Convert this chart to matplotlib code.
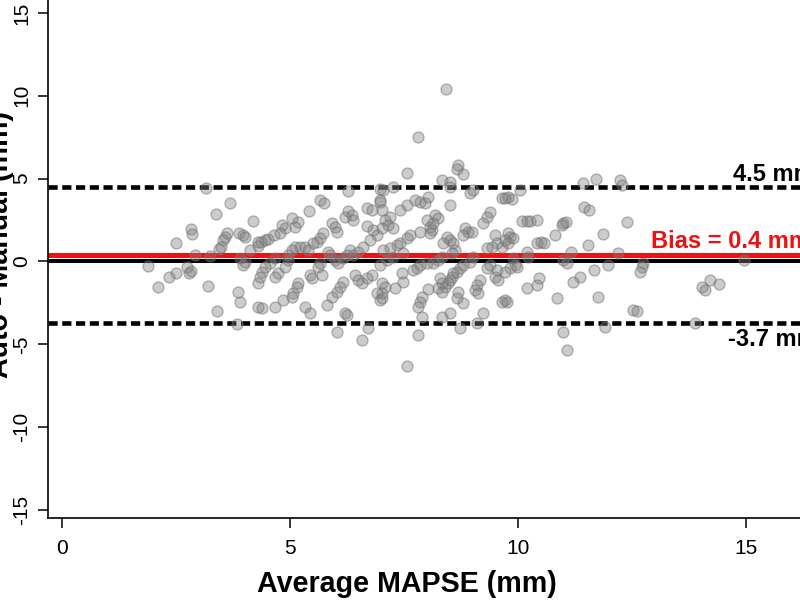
import matplotlib
matplotlib.use('Agg')
import matplotlib.pyplot as plt

plt.rcParams['font.family'] = ['Liberation Sans', 'DejaVu Sans']
plt.rcParams['axes.unicode_minus'] = False

# Bland-Altman data: mean of the two methods vs difference
avg_mapse = [
    3.16, 3.68, 3.38, 4.19, 2.83, 2.85, 2.50, 3.62, 3.57, 3.53, 3.49, 3.44, 3.88, 3.97, 4.01, 4.12,
    4.30, 2.92, 3.25, 1.89, 2.74, 2.83, 2.79, 2.50, 2.35, 2.11, 3.20, 3.86, 3.90, 3.97, 4.01, 3.90,
    4.30, 3.40, 3.84, 4.30, 6.27, 6.97, 5.66, 5.75, 5.42, 6.69, 6.80, 6.27, 6.36, 6.38, 6.21, 6.97,
    5.04, 5.18, 5.11, 4.89, 4.82, 5.92, 5.99, 6.03, 5.72, 5.66, 5.59, 5.50, 4.65, 4.52, 4.45, 4.36,
    4.30, 4.78, 6.69, 6.82, 6.91, 6.75, 6.60, 6.49, 6.38, 6.32, 6.25, 6.16, 5.11, 5.04, 4.96, 5.22,
    5.33, 5.39, 5.83, 5.88, 5.99, 6.05, 4.67, 4.56, 4.45, 4.39, 4.34, 4.96, 4.89, 4.74, 4.67, 5.66,
    5.61, 5.70, 5.44, 5.48, 5.18, 5.15, 5.07, 5.04, 4.85, 4.67, 4.39, 5.33, 5.44, 6.16, 6.10, 6.03,
    5.92, 5.81, 6.21, 6.25, 6.03, 6.71, 6.58, 6.43, 6.49, 6.58, 6.69, 6.80, 6.91, 7.02, 7.02, 8.42,
    7.81, 7.57, 8.68, 8.66, 8.79, 8.33, 8.51, 8.51, 7.26, 7.04, 8.95, 9.01, 9.65, 9.78, 7.74, 7.85,
    7.96, 8.03, 7.57, 7.41, 8.51, 6.97, 7.02, 7.19, 7.08, 7.15, 7.02, 7.26, 8.18, 8.25, 8.14, 8.07,
    8.00, 8.11, 8.07, 7.85, 7.63, 7.57, 7.41, 7.35, 7.19, 7.04, 9.39, 9.32, 9.23, 8.84, 8.90, 8.99,
    8.79, 8.44, 8.51, 8.36, 8.57, 9.50, 9.54, 9.43, 9.32, 9.65, 9.78, 8.62, 8.55, 8.33, 8.25, 8.14,
    8.00, 7.85, 7.79, 7.70, 7.48, 7.26, 7.13, 6.97, 9.01, 8.95, 8.79, 8.73, 8.66, 8.57, 8.55, 8.51,
    8.46, 8.40, 9.39, 9.32, 9.54, 9.50, 9.56, 9.17, 9.10, 9.06, 9.12, 8.29, 8.33, 8.25, 8.33, 7.46,
    7.48, 7.30, 7.08, 7.02, 6.97, 8.03, 7.89, 7.85, 7.81, 8.68, 8.66, 8.79, 9.71, 9.65, 9.23, 9.10,
    8.33, 8.51, 8.73, 7.89, 7.81, 7.57, 11.43, 11.71, 12.24, 12.28, 10.04, 9.87, 9.71, 11.45, 11.56, 12.39,
    10.09, 10.20, 10.26, 10.42, 10.99, 11.05, 10.96, 11.86, 10.81, 9.78, 9.82, 9.89, 9.71, 10.42, 10.50, 10.57,
    11.54, 10.20, 10.22, 11.16, 12.19, 9.89, 9.93, 9.82, 9.71, 9.98, 10.99, 11.07, 11.97, 11.67, 10.46, 10.42,
    10.20, 11.36, 11.21, 10.86, 11.75, 9.76, 12.52, 10.99, 11.91, 11.07, 12.74, 12.72, 12.68, 14.96, 14.04, 14.10,
    14.21, 14.41, 12.61, 13.88,
]
auto_minus_manual = [
    4.44, 3.53, 2.87, 2.44, 1.96, 1.66, 1.12, 1.72, 1.48, 1.30, 0.88, 0.75, 1.72, 1.60, 1.48, 0.69,
    1.18, 0.39, 0.33, -0.27, -0.33, -0.57, -0.69, -0.69, -0.94, -1.54, -1.48, -1.84, -2.44, -0.21, -0.03, 0.21,
    -1.30, -2.99, -3.77, -2.75, 4.25, 4.38, 3.71, 3.53, 3.05, 3.23, 3.11, 3.05, 2.81, 2.50, 2.69, 3.71,
    2.63, 2.38, 2.08, 2.02, 2.20, 2.32, 2.08, 1.78, 1.72, 1.42, 1.18, 1.12, 1.60, 1.36, 1.30, 1.18,
    0.94, 1.72, 2.14, 1.90, 1.60, 1.30, 0.88, 0.57, 0.39, 0.69, 0.39, 0.21, 0.88, 0.69, 0.39, 0.88,
    0.88, 0.69, 0.57, 0.39, 0.09, -0.09, 0.21, -0.09, -0.33, -0.63, -0.94, 0.09, -0.33, -0.69, -0.94, -0.09,
    -0.33, -0.81, -0.81, -1.00, -1.30, -1.54, -1.90, -2.14, -2.32, -2.75, -2.81, -2.75, -3.11, -1.24, -1.54, -1.84,
    -2.14, -2.63, -3.11, -3.23, -4.25, -4.01, -4.74, -0.81, -1.12, -1.30, -1.00, -0.81, -1.90, -2.20, -1.30, 10.41,
    7.51, 5.34, 5.82, 5.58, 5.28, 4.92, 4.80, 4.50, 4.50, 4.31, 4.13, 4.31, 3.83, 3.89, 3.71, 3.59,
    3.53, 3.89, 3.41, 3.11, 3.41, 3.59, 3.11, 2.69, 2.50, 2.20, 2.02, 2.02, 2.81, 2.63, 2.32, 2.08,
    2.50, 1.90, 1.72, 1.78, 1.60, 1.42, 1.12, 1.00, 0.81, 0.69, 2.99, 2.69, 2.32, 2.02, 1.78, 1.78,
    1.60, 1.48, 1.30, 1.12, 1.12, 1.60, 1.12, 0.88, 0.81, 0.88, 1.12, 0.69, 0.51, 0.27, 0.09, -0.09,
    -0.09, -0.21, -0.39, -0.51, 0.51, 0.27, 0.09, -0.21, 0.27, -0.03, -0.21, -0.39, -0.63, -0.69, -0.94, -1.12,
    -1.30, -1.54, -0.21, -0.39, -0.51, -0.94, -1.12, -1.12, -1.42, -1.72, -1.90, -1.00, -1.30, -1.60, -1.84, -0.69,
    -1.24, -1.60, -1.54, -1.90, -2.32, -1.66, -2.14, -2.44, -2.75, -1.84, -2.20, -2.50, -2.32, -2.44, -3.11, -3.71,
    -3.35, -3.11, -4.01, -3.35, -4.44, -6.31, 4.74, 4.98, 4.92, 4.62, 4.31, 3.77, 3.83, 3.29, 3.11, 2.38,
    2.44, 2.44, 2.44, 2.50, 2.32, 2.38, 2.20, 1.66, 1.60, 1.72, 1.48, 1.42, 1.30, 1.12, 1.18, 1.12,
    1.00, 0.57, 0.27, 0.57, 0.51, 0.21, -0.21, -0.39, -0.63, -0.33, 0.09, -0.09, -0.21, -0.51, -1.00, -1.42,
    -1.60, -0.94, -1.24, -2.20, -2.14, -2.44, -2.93, -4.25, -3.95, -5.34, -0.09, -0.33, -0.63, 0.09, -1.54, -1.72,
    -1.12, -1.36, -2.99, -3.71,
]

bias = 0.4
upper_loa = 4.5
lower_loa = -3.7
x_ticks = [0, 5, 10, 15]
y_ticks = [-15, -10, -5, 0, 5, 10, 15]

fig = plt.figure(figsize=(8, 6), dpi=100)
# the original is cropped on the right, so the axes run past the figure edge
ax = fig.add_axes([0.06, 0.1367, 1.0, 0.8633])

ax.axhline(0, color='black', lw=2.9, zorder=1)
ax.axhline(bias, color='#ee1111', lw=3.6, zorder=1)
ax.axhline(upper_loa, color='black', lw=3.3, linestyle=(0, (2.0, 1.0)), zorder=1)
ax.axhline(lower_loa, color='black', lw=3.3, linestyle=(0, (2.0, 1.0)), zorder=1)

ax.scatter(avg_mapse, auto_minus_manual, s=62,
           facecolor=(0.5, 0.5, 0.5, 0.4), edgecolor=(0.45, 0.45, 0.45, 0.5),
           linewidth=1, zorder=3)

# labels run off the right edge, as in the cropped original
ax.annotate(f'{upper_loa} mm', xy=(14.71, upper_loa), xytext=(0, 4), textcoords='offset points',
            ha='left', va='baseline', fontsize=17, fontweight='bold')
ax.annotate(f'Bias = {bias} mm', xy=(12.92, bias), xytext=(0, 5), textcoords='offset points',
            ha='left', va='baseline', fontsize=17, fontweight='bold', color='#ee1111')
ax.annotate(f'{lower_loa} mm', xy=(14.6, lower_loa), xytext=(0, -4), textcoords='offset points',
            ha='left', va='top', fontsize=17, fontweight='bold')

ax.set_xlim(-0.307, 17.24)
ax.set_ylim(-15.48, 15.78)
ax.spines['top'].set_visible(False)
ax.spines['right'].set_visible(False)
ax.spines['left'].set_linewidth(1.2)
ax.spines['bottom'].set_linewidth(1.2)

ax.set_xticks(x_ticks)
ax.set_yticks(y_ticks)
ax.tick_params(direction='out', length=7, width=1.1, labelsize=15)
ax.tick_params(axis='x', pad=8)
ax.tick_params(axis='y', pad=5, labelrotation=90)
for lab in ax.get_yticklabels():
    lab.set_va('center')

fig.text(407 / 800, 1 - 592 / 600, 'Average MAPSE (mm)', ha='center', va='baseline',
         fontsize=20.6, fontweight='bold')
# y label is mostly cut off by the left edge in the original as well
fig.text(14 / 800, 1 - 245 / 600, 'Auto - Manual (mm)', ha='right', va='center',
         rotation=90, fontsize=20.6, fontweight='bold')

fig.savefig('out.png', dpi=100)
